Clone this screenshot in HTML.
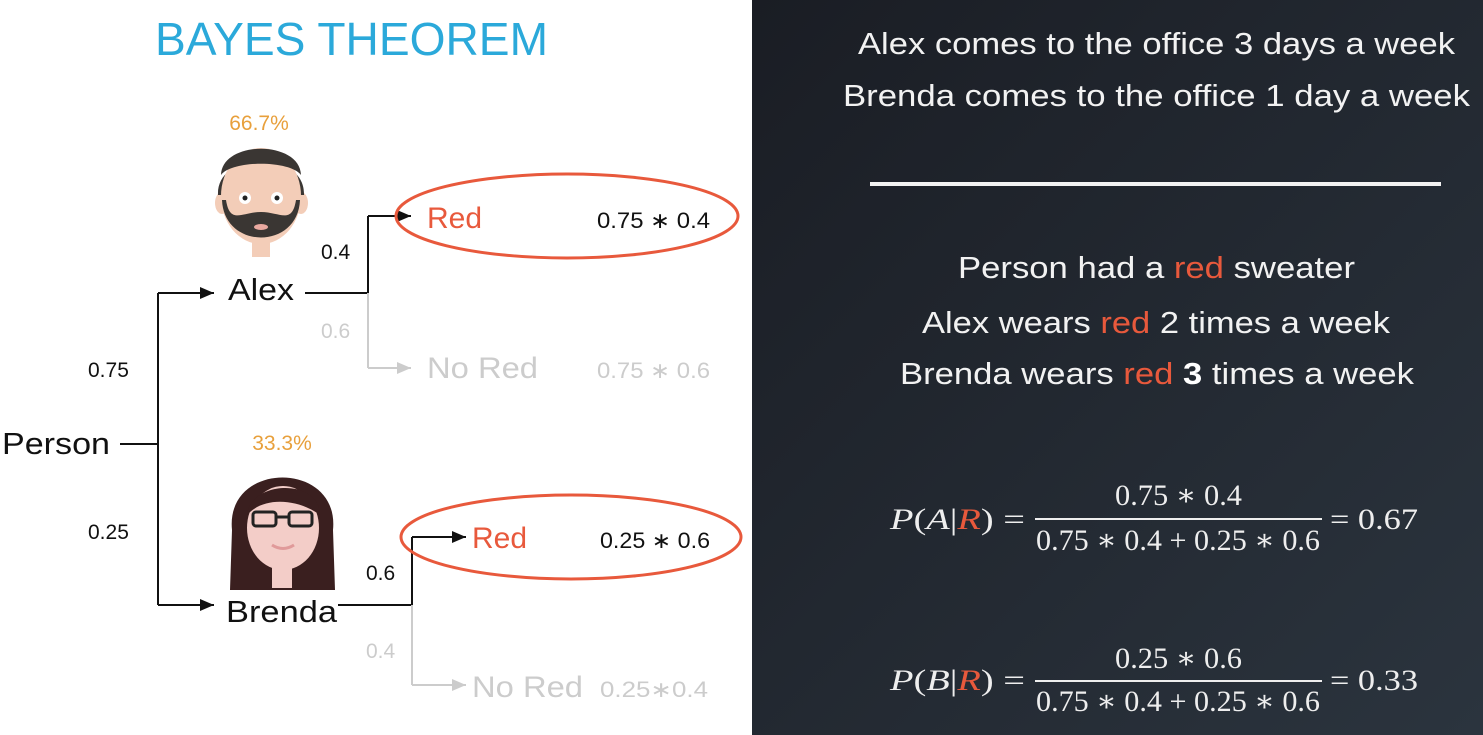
<!DOCTYPE html>
<html><head><meta charset="utf-8"><style>
html,body{margin:0;padding:0;width:1483px;height:735px;overflow:hidden;background:#fff}
svg{display:block}
.s{font-family:"Liberation Sans","DejaVu Sans",sans-serif}
.m{font-family:"Liberation Serif","DejaVu Serif",serif}
</style></head><body>
<svg width="1483" height="735" viewBox="0 0 1483 735">
<defs>
<linearGradient id="bg" x1="0" y1="0" x2="1" y2="1">
<stop offset="0" stop-color="#1a1d24"/><stop offset="1" stop-color="#2b343e"/>
</linearGradient>
<marker id="ab" markerWidth="8" markerHeight="8" refX="7" refY="4" orient="auto"><path d="M0,1 L7,4 L0,7 z" fill="#111"/></marker>
<marker id="ag" markerWidth="8" markerHeight="8" refX="7" refY="4" orient="auto"><path d="M0,1 L7,4 L0,7 z" fill="#ccc"/></marker>
</defs>
<rect x="0" y="0" width="752" height="735" fill="#fff"/>
<rect x="752" y="0" width="731" height="735" fill="url(#bg)"/>

<text x="155" y="55" class="s" font-size="46" fill="#2ba9da" textLength="393" lengthAdjust="spacingAndGlyphs">BAYES THEOREM</text>

<g class="s">
<text x="2" y="454" font-size="31" fill="#111" textLength="108" lengthAdjust="spacingAndGlyphs">Person</text>
<path d="M120,444 H158 M158,293 V605" stroke="#111" stroke-width="2" fill="none"/>
<path d="M158,293 H214" stroke="#111" stroke-width="2" marker-end="url(#ab)"/>
<path d="M158,605 H214" stroke="#111" stroke-width="2" marker-end="url(#ab)"/>
<text x="88" y="377" font-size="21" fill="#111">0.75</text>
<text x="88" y="539" font-size="21" fill="#111">0.25</text>

<text x="228" y="300" font-size="31" fill="#111" textLength="66" lengthAdjust="spacingAndGlyphs">Alex</text>
<path d="M305,293 H368 V216" stroke="#111" stroke-width="2" fill="none"/>
<path d="M368,216 H411" stroke="#111" stroke-width="2" marker-end="url(#ab)"/>
<path d="M368,293 V368" stroke="#ccc" stroke-width="2" fill="none"/>
<path d="M368,368 H411" stroke="#ccc" stroke-width="2" marker-end="url(#ag)"/>
<text x="321" y="259" font-size="21" fill="#111">0.4</text>
<text x="321" y="338" font-size="21" fill="#ccc">0.6</text>
<ellipse cx="567" cy="216" rx="171" ry="42" fill="none" stroke="#e8593c" stroke-width="3"/>
<text x="427" y="228" font-size="30" fill="#e8593c">Red</text>
<text x="597" y="228" font-size="22" fill="#111" textLength="113" lengthAdjust="spacingAndGlyphs">0.75 ∗ 0.4</text>
<text x="427" y="378" font-size="30" fill="#ccc" textLength="111" lengthAdjust="spacingAndGlyphs">No Red</text>
<text x="597" y="378" font-size="22" fill="#ccc" textLength="113" lengthAdjust="spacingAndGlyphs">0.75 ∗ 0.6</text>

<text x="226" y="622" font-size="31" fill="#111" textLength="111" lengthAdjust="spacingAndGlyphs">Brenda</text>
<path d="M338,605 H412 V537" stroke="#111" stroke-width="2" fill="none"/>
<path d="M412,537 H466" stroke="#111" stroke-width="2" marker-end="url(#ab)"/>
<path d="M412,605 V685" stroke="#ccc" stroke-width="2" fill="none"/>
<path d="M412,685 H466" stroke="#ccc" stroke-width="2" marker-end="url(#ag)"/>
<text x="366" y="580" font-size="21" fill="#111">0.6</text>
<text x="366" y="658" font-size="21" fill="#ccc">0.4</text>
<ellipse cx="571" cy="537" rx="170" ry="42" fill="none" stroke="#e8593c" stroke-width="3"/>
<text x="472" y="548" font-size="30" fill="#e8593c">Red</text>
<text x="600" y="548" font-size="22" fill="#111" textLength="110" lengthAdjust="spacingAndGlyphs">0.25 ∗ 0.6</text>
<text x="472" y="697" font-size="30" fill="#ccc" textLength="111" lengthAdjust="spacingAndGlyphs">No Red</text>
<text x="600" y="697" font-size="22" fill="#ccc" textLength="108" lengthAdjust="spacingAndGlyphs">0.25∗0.4</text>

<text x="259" y="130" font-size="21" fill="#e8a03c" text-anchor="middle">66.7%</text>
<text x="282" y="450" font-size="21" fill="#e8a03c" text-anchor="middle">33.3%</text>
</g>

<g>
<rect x="252" y="225" width="18" height="32" fill="#f3cdb8"/>
<ellipse cx="222" cy="203" rx="7" ry="11" fill="#f3cdb8"/>
<ellipse cx="301" cy="203" rx="7" ry="11" fill="#f3cdb8"/>
<path d="M218,195 C216,150 306,150 304,195 L300,195 C296,175 226,175 222,195 Z" fill="#3a3633"/>
<ellipse cx="261" cy="196" rx="40" ry="48" fill="#f3cdb8"/>
<path d="M221,175 C222,140 300,140 301,175 C290,160 232,160 221,175 Z" fill="#3a3633"/>
<path d="M222,200 C224,250 298,250 300,200 L296,200 C292,225 280,212 261,212 C242,212 230,225 226,200 Z" fill="#3a3633"/>
<circle cx="245" cy="198" r="6" fill="#fff"/><circle cx="277" cy="198" r="6" fill="#fff"/>
<circle cx="245" cy="198" r="2.5" fill="#222"/><circle cx="277" cy="198" r="2.5" fill="#222"/>
<ellipse cx="261" cy="227" rx="7" ry="3" fill="#e9a9a0"/>
</g>
<g>
<path d="M232,530 C225,460 340,460 333,530 L335,590 L230,590 Z" fill="#3a1f1f"/>
<rect x="272" y="560" width="20" height="28" fill="#f3cdc8"/>
<ellipse cx="283" cy="528" rx="36" ry="42" fill="#f3cdc8"/>
<path d="M247,515 C250,480 320,478 320,515 C300,500 265,495 247,515 Z" fill="#3a1f1f"/>
<rect x="253" y="512" width="23" height="14" rx="3" fill="none" stroke="#222" stroke-width="3"/>
<rect x="289" y="512" width="23" height="14" rx="3" fill="none" stroke="#222" stroke-width="3"/>
<line x1="276" y1="517" x2="289" y2="517" stroke="#222" stroke-width="3"/>
<path d="M272,545 Q283,552 294,545" stroke="#e09a9a" stroke-width="3" fill="none"/>
</g>

<g class="s" fill="#f2f2f2" font-size="31">
<text x="858" y="54" textLength="597" lengthAdjust="spacingAndGlyphs">Alex comes to the office 3 days a week</text>
<text x="843" y="106" textLength="627" lengthAdjust="spacingAndGlyphs">Brenda comes to the office 1 day a week</text>
<rect x="870" y="182" width="571" height="4" fill="#f2f2f2"/>
<text x="958" y="278" textLength="397" lengthAdjust="spacingAndGlyphs">Person had a <tspan fill="#e8593c">red</tspan> sweater</text>
<text x="922" y="333" textLength="468" lengthAdjust="spacingAndGlyphs">Alex wears <tspan fill="#e8593c">red</tspan> 2 times a week</text>
<text x="900" y="384" textLength="514" lengthAdjust="spacingAndGlyphs">Brenda wears <tspan fill="#e8593c">red</tspan> <tspan font-weight="bold" fill="#fff">3</tspan> times a week</text>
</g>

<g class="m" fill="#eee" font-size="30">
<text x="890" y="529" textLength="135" lengthAdjust="spacingAndGlyphs"><tspan font-style="italic">P</tspan>(<tspan font-style="italic">A</tspan>|<tspan font-style="italic" fill="#e8593c">R</tspan>) =</text>
<text x="1115" y="505" textLength="127" lengthAdjust="spacingAndGlyphs">0.75 ∗ 0.4</text>
<rect x="1035" y="518" width="287" height="2" fill="#eee"/>
<text x="1036" y="550" textLength="284" lengthAdjust="spacingAndGlyphs">0.75 ∗ 0.4 + 0.25 ∗ 0.6</text>
<text x="1330" y="529" textLength="88" lengthAdjust="spacingAndGlyphs">= 0.67</text>
</g>
<g class="m" fill="#eee" font-size="30">
<text x="890" y="690" textLength="135" lengthAdjust="spacingAndGlyphs"><tspan font-style="italic">P</tspan>(<tspan font-style="italic">B</tspan>|<tspan font-style="italic" fill="#e8593c">R</tspan>) =</text>
<text x="1115" y="668" textLength="127" lengthAdjust="spacingAndGlyphs">0.25 ∗ 0.6</text>
<rect x="1035" y="680" width="287" height="2" fill="#eee"/>
<text x="1036" y="711" textLength="284" lengthAdjust="spacingAndGlyphs">0.75 ∗ 0.4 + 0.25 ∗ 0.6</text>
<text x="1330" y="690" textLength="88" lengthAdjust="spacingAndGlyphs">= 0.33</text>
</g>
</svg>
</body></html>
